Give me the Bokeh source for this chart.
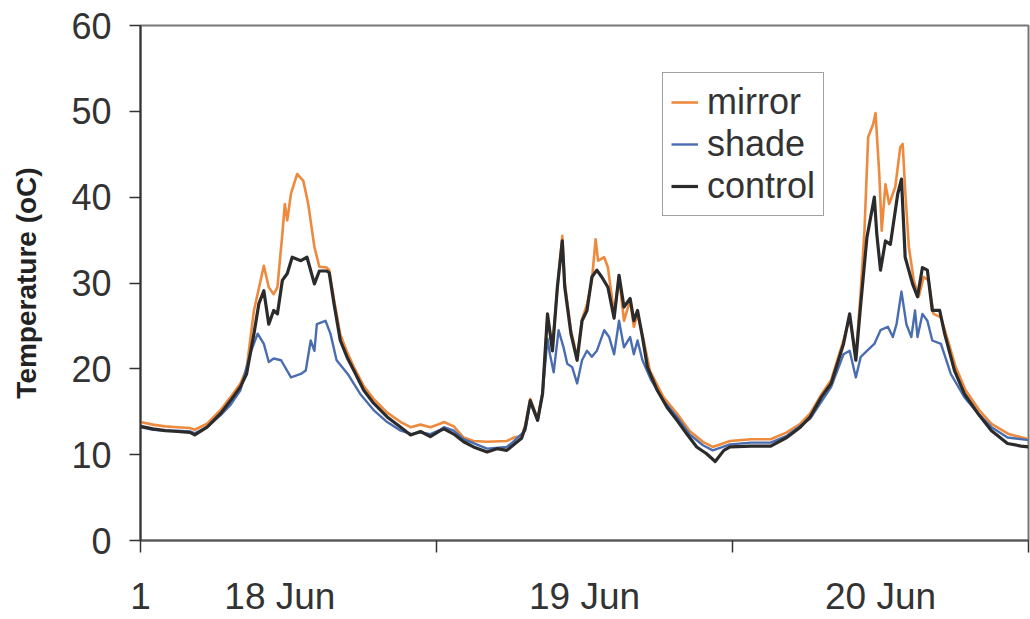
from bokeh.plotting import figure
from bokeh.models import Range1d, FixedTicker, Legend, LegendItem
from bokeh.embed import file_html
from bokeh.resources import INLINE

# ---- data (hours since start of record, temperature in deg C) ----
control_hours = [0, 1, 2, 3, 4, 4.4, 5.4, 6.5, 7.3, 8.1, 8.6, 9.2, 9.6, 10.0, 10.4, 10.8, 11.1, 11.5, 11.9, 12.3,
                 13.0, 13.5, 14.1, 14.5, 15.1, 15.3, 15.7, 16.2, 16.8, 17.3, 18.1, 18.9, 20.0, 21.1, 21.9, 22.7,
                 23.5, 24.3, 24.6, 25.4, 26.2, 27.0, 28.1, 28.9, 29.7, 30.3, 30.9, 31.2, 31.6, 32.2, 32.6, 33.0,
                 33.4, 33.8, 34.2, 34.4, 34.9, 35.4, 35.8, 36.2, 36.6, 37.0, 37.4, 37.9, 38.4, 38.8, 39.2, 39.7,
                 40.0, 40.3, 40.7, 41.1, 41.9, 42.7, 43.5, 44.3, 45.1, 45.9, 46.6, 47.3, 47.8, 49.5, 51.1, 52.4,
                 53.5, 54.3, 55.2, 56.0, 56.5, 57.0, 57.5, 58.0, 58.4, 58.9, 59.5, 59.7, 60.0, 60.4, 60.8, 61.4,
                 61.7, 62.0, 62.6, 63.0, 63.4, 63.8, 64.2, 64.8, 65.2, 66.0, 66.8, 67.9, 69.0, 70.3, 71.4, 72.0]
control_temp = [13.3, 13.0, 12.8, 12.7, 12.6, 12.3, 13.2, 14.8, 16.3, 17.9, 19.4, 24.1, 27.6, 29.1, 25.2, 26.8, 26.4,
                30.3, 31.1, 33.0, 32.6, 33.0, 29.9, 31.4, 31.4, 31.2, 27.5, 23.3, 21.2, 19.8, 17.5, 16.0, 14.4,
                13.2, 12.3, 12.7, 12.1, 12.8, 13.0, 12.4, 11.5, 10.9, 10.3, 10.7, 10.5, 11.2, 11.9, 13.2, 16.3,
                14.0, 17.1, 26.4, 22.1, 29.5, 34.9, 29.5, 24.1, 21.0, 25.6, 26.8, 30.7, 31.5, 30.7, 29.5, 25.9,
                30.9, 27.2, 28.2, 25.6, 26.8, 23.7, 20.2, 17.5, 15.5, 14.0, 12.4, 10.9, 10.1, 9.2, 10.5, 10.9,
                11.0, 11.0, 12.0, 13.2, 14.4, 16.7, 18.3, 20.6, 22.9, 26.4, 21.0, 27.6, 35.3, 40.0, 35.7, 31.5,
                34.9, 34.5, 40.4, 42.1, 33.0, 29.9, 28.4, 31.8, 31.5, 26.8, 26.8, 24.1, 19.8, 17.1, 14.8, 12.8,
                11.3, 11.0, 10.9]

mirror_hours = [0, 1, 2, 3, 4, 4.4, 5.4, 6.5, 7.3, 8.1, 8.6, 9.2, 10.0, 10.4, 10.8, 11.1, 11.5, 11.7, 11.9, 12.2,
                12.7, 13.2, 13.6, 14.1, 14.5, 15.1, 15.3, 15.7, 16.2, 16.8, 17.3, 18.1, 18.9, 20.0, 21.1, 21.9,
                22.7, 23.5, 24.3, 24.6, 25.4, 26.2, 27.0, 28.1, 29.7, 30.3, 30.9, 31.2, 31.6, 32.2, 32.6, 33.0,
                33.4, 33.8, 34.2, 34.4, 34.9, 35.4, 35.8, 36.2, 36.6, 36.9, 37.1, 37.6, 37.9, 38.4, 38.8, 39.2,
                39.7, 40.0, 40.3, 40.8, 41.3, 42.4, 43.5, 44.5, 45.6, 46.4, 47.8, 49.5, 51.1, 52.4, 53.5, 54.3,
                55.2, 56.0, 56.5, 57.0, 57.5, 58.0, 58.4, 58.7, 59.0, 59.4, 59.6, 59.9, 60.1, 60.4, 60.7, 61.2,
                61.6, 61.8, 62.0, 62.3, 62.7, 63.1, 63.5, 63.9, 64.3, 64.9, 65.3, 66.1, 66.9, 68.0, 69.0, 70.4, 72.0]
mirror_temp = [13.8, 13.5, 13.3, 13.2, 13.1, 12.9, 13.6, 15.2, 16.7, 18.3, 20.0, 26.8, 32.0, 29.5, 28.7, 29.5, 35.7,
               39.2, 37.3, 40.4, 42.7, 41.9, 39.2, 34.2, 31.9, 31.8, 31.5, 28.0, 24.0, 21.8, 20.2, 18.0, 16.5,
               14.9, 13.8, 13.2, 13.5, 13.2, 13.6, 13.8, 13.3, 12.0, 11.6, 11.5, 11.6, 12.0, 12.2, 13.4, 16.5,
               14.2, 17.3, 26.0, 22.5, 29.5, 35.5, 30.0, 24.5, 21.4, 25.8, 27.5, 30.3, 35.1, 32.6, 33.0, 31.8,
               26.4, 30.7, 25.6, 28.0, 24.9, 26.4, 23.3, 19.8, 16.7, 14.8, 12.8, 11.5, 10.9, 11.6, 11.8, 11.8,
               12.6, 13.6, 14.8, 17.0, 18.7, 21.0, 23.3, 26.0, 21.4, 29.1, 36.1, 47.0, 48.5, 49.8, 42.7, 36.1,
               41.5, 39.2, 41.2, 45.8, 46.2, 40.8, 34.2, 30.3, 28.4, 30.7, 30.3, 26.4, 26.0, 24.1, 20.2, 17.5,
               15.2, 13.6, 12.4, 11.8]

shade_hours = [0, 1, 2, 3, 4, 4.4, 5.4, 6.5, 7.3, 8.1, 8.9, 9.5, 10.0, 10.4, 10.8, 11.4, 12.2, 13.0, 13.4, 13.8,
               14.1, 14.3, 15.0, 15.4, 15.9, 16.8, 17.8, 18.9, 20.0, 21.1, 22.0, 22.7, 23.5, 24.3, 24.6, 25.4,
               26.2, 28.1, 29.7, 30.3, 31.2, 31.6, 32.2, 32.6, 33.0, 33.2, 33.5, 33.9, 34.3, 34.6, 35.0, 35.4,
               35.8, 36.2, 36.6, 37.0, 37.6, 38.0, 38.4, 38.8, 39.2, 39.7, 40.0, 40.3, 40.7, 41.4, 42.4, 43.5,
               44.5, 45.6, 46.4, 47.8, 49.5, 51.1, 52.4, 54.3, 56.0, 57.0, 57.5, 58.0, 58.4, 58.9, 59.5, 60.0,
               60.6, 61.0, 61.3, 61.7, 62.1, 62.5, 62.8, 63.0, 63.4, 63.8, 64.2, 64.9, 65.7, 66.8, 67.9, 69.0,
               70.3, 72.0]
shade_temp = [13.2, 12.9, 12.8, 12.8, 12.7, 12.5, 13.2, 14.6, 15.8, 17.5, 21.8, 24.1, 22.9, 20.8, 21.2, 21.0, 19.0,
              19.4, 19.8, 23.3, 22.1, 25.2, 25.6, 24.1, 21.0, 19.4, 17.1, 15.2, 13.8, 12.8, 12.4, 12.6, 12.4,
              12.9, 13.2, 12.8, 11.8, 10.7, 10.9, 11.6, 12.8, 16.1, 14.0, 17.1, 23.5, 21.7, 19.6, 24.5, 22.5,
              20.6, 20.2, 18.3, 21.0, 22.1, 21.4, 22.1, 24.5, 23.7, 21.7, 25.6, 22.5, 23.7, 21.7, 23.3, 21.0,
              18.7, 16.3, 14.4, 12.4, 11.1, 10.5, 11.2, 11.4, 11.4, 12.2, 14.2, 17.9, 21.7, 22.1, 19.0, 21.4,
              22.1, 22.9, 24.5, 24.9, 23.7, 25.2, 29.0, 25.2, 23.7, 26.8, 23.7, 26.4, 25.6, 23.3, 22.9, 19.4,
              16.7, 14.8, 13.2, 12.0, 11.7]

y_ticks = [0, 10, 20, 30, 40, 50, 60]
day_boundaries = [0, 24, 48, 72]
x_label_pos = [0, 11.3, 36, 60]
x_labels = ["1", "18 Jun", "19 Jun", "20 Jun"]

FONT = "Liberation Sans"
TXT = "#333333"

p = figure(width=1030, height=619, output_backend="svg", toolbar_location=None,
           x_range=Range1d(0, 72), y_range=Range1d(0, 60),
           min_border_left=140, min_border_right=2, min_border_top=25, min_border_bottom=79)
p.background_fill_color = "white"
p.border_fill_color = "white"
p.outline_line_color = "#777777"
p.outline_line_width = 2
p.xgrid.visible = False
p.ygrid.visible = False

r_mirror = p.line(mirror_hours, mirror_temp, line_color="#EE8A3E", line_width=2.6, line_join="round")
r_shade = p.line(shade_hours, shade_temp, line_color="#4A6DB0", line_width=2.4, line_join="round")
r_control = p.line(control_hours, control_temp, line_color="#2B2B2B", line_width=3.2, line_join="round")

# y axis
ya = p.yaxis[0]
ya.ticker = FixedTicker(ticks=y_ticks, minor_ticks=[])
ya.axis_line_color = "#333333"
ya.axis_line_width = 2
ya.major_tick_line_color = "#333333"
ya.major_tick_line_width = 1.5
ya.major_tick_out = 11
ya.major_tick_in = 0
ya.major_label_standoff = 18
ya.major_label_text_font = FONT
ya.major_label_text_font_size = "36px"
ya.major_label_text_color = TXT
ya.axis_label = "Temperature (oC)"
ya.axis_label_text_font = FONT
ya.axis_label_text_font_size = "28px"
ya.axis_label_text_font_style = "bold"
ya.axis_label_text_color = "#222222"
ya.axis_label_standoff = 26

# x axis: labels at midday positions, tick marks at day boundaries (minor ticks)
xa = p.xaxis[0]
xa.ticker = FixedTicker(ticks=x_label_pos, minor_ticks=day_boundaries)
xa.major_label_overrides = {k: v for k, v in zip(x_label_pos, x_labels)}
xa.axis_line_color = "#555555"
xa.axis_line_width = 2
xa.major_tick_line_color = None
xa.major_tick_out = 12
xa.major_tick_in = 0
xa.minor_tick_line_color = "#333333"
xa.minor_tick_line_width = 1.5
xa.minor_tick_out = 12
xa.minor_tick_in = 0
xa.major_label_standoff = 23
xa.major_label_text_font = FONT
xa.major_label_text_font_size = "37px"
xa.major_label_text_color = TXT

legend = Legend(items=[LegendItem(label="mirror", renderers=[r_mirror]),
                       LegendItem(label="shade", renderers=[r_shade]),
                       LegendItem(label="control", renderers=[r_control])],
                location=(522, 324))
legend.label_text_font = FONT
legend.label_text_font_size = "36px"
legend.label_text_color = TXT
legend.glyph_width = 27
legend.glyph_height = 42
legend.label_height = 42
legend.spacing = 0
legend.padding = 8
legend.margin = 0
legend.label_standoff = 9
legend.border_line_color = "#444444"
legend.border_line_width = 1.5
legend.background_fill_color = "white"
legend.background_fill_alpha = 1.0
p.add_layout(legend, "center")

open("out.html", "w").write(file_html(p, INLINE))
